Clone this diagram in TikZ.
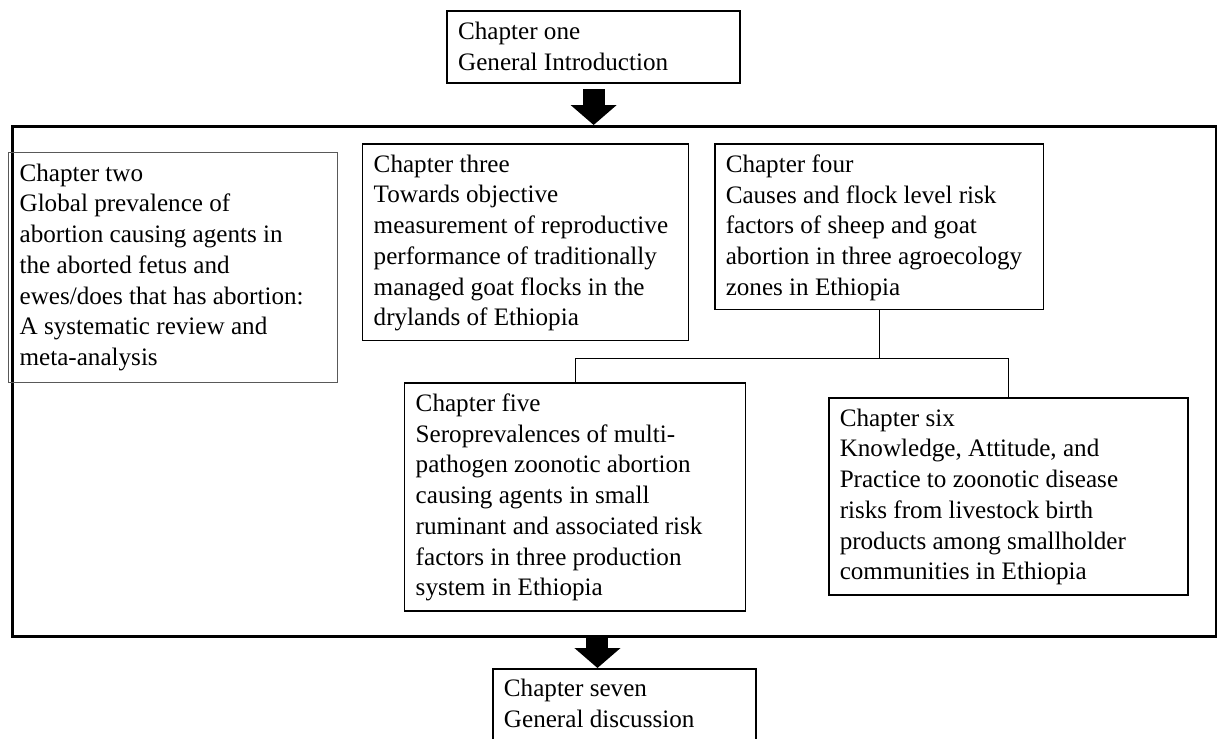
\documentclass[tikz,border=0pt]{standalone}
\usepackage{fontspec}
\setmainfont{Liberation Serif}
\usetikzlibrary{arrows.meta}

\newlength{\px}
\setlength{\px}{0.02cm}
\newcommand{\chaptext}[3]{\parbox[t][#2\px][t]{#1\px}{\raggedright #3}}

\tikzset{
  chap/.style={draw, line width=0.85pt, anchor=north west, inner xsep=0.22cm, inner ysep=0.22cm,
    font=\fontsize{14.3}{17.5}\selectfont},
  link/.style={line width=0.8pt},
  blockarrow/.style={line width=0.44cm, -{Triangle[length=0.4cm, width=0.9cm]}},
}

\begin{document}
\begin{tikzpicture}[x=0.02cm, y=-0.02cm]
\useasboundingbox (0,0) rectangle (1221,738);
\clip (0,0) rectangle (1221,738);

% outer frame
\node[draw, line width=1.5pt, anchor=north west, inner sep=0pt,
  minimum width=24.08cm, minimum height=10.2cm] (frame) at (11,125) {};

% chapters
\node[chap, line width=1.3pt] (one) at (446,10)
  {\chaptext{271}{50}{Chapter one\\General Introduction}};
\node[chap, draw=black!65, line width=0.7pt] (two) at (8,152)
  {\chaptext{307}{208}{Chapter two\\Global prevalence of\\abortion causing agents in\\the aborted fetus and\\ewes/does that has abortion:\\A systematic review and\\meta-analysis}};
\node[chap] (three) at (362,143)
  {\chaptext{304}{175}{Chapter three\\Towards objective\\measurement of reproductive\\performance of traditionally\\managed goat flocks in the\\drylands of Ethiopia}};
\node[chap] (four) at (714,143)
  {\chaptext{307}{144}{Chapter four\\Causes and flock level risk\\factors of sheep and goat\\abortion in three agroecology\\zones in Ethiopia}};
\node[chap] (five) at (404,382)
  {\chaptext{319}{206}{Chapter five\\Seroprevalences of multi-\\pathogen zoonotic abortion\\causing agents in small\\ruminant and associated risk\\factors in three production\\system in Ethiopia}};
\node[chap] (six) at (828,397)
  {\chaptext{337}{175}{Chapter six\\Knowledge, Attitude, and\\Practice to zoonotic disease\\risks from livestock birth\\products among smallholder\\communities in Ethiopia}};
\node[chap, inner ysep=0.2cm, line width=1.1pt] (seven) at (492,668)
  {\chaptext{241}{70}{Chapter seven\\General discussion}};

% links
\path (four.south) ++(0,48) coordinate (hub);
\draw[link] (four.south) -- (hub);
\draw[link] (five.north) |- (hub) -| (six.north);

% block arrows
\draw[blockarrow] ([yshift=-0.1cm]one.south) -- (one.south |- frame.north);
\coordinate (tip7) at ([xshift=-0.54cm]seven.north);
\draw[blockarrow] (tip7 |- frame.south) -- (tip7);
\end{tikzpicture}
\end{document}
